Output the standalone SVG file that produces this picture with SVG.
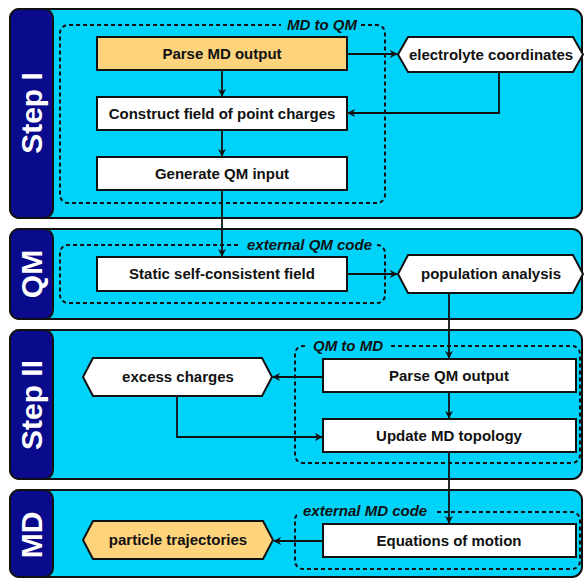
<svg xmlns="http://www.w3.org/2000/svg" width="584" height="579" viewBox="0 0 584 579">
<style>
.lane{fill:#00D3FA;stroke:#111;stroke-width:2}
.tag{fill:#0A0A8C;stroke:#111;stroke-width:2}
.tagt{font-family:"Liberation Sans",Arial,sans-serif;font-weight:bold;font-size:30px;fill:#fff;text-anchor:middle}
.box{fill:#fff;stroke:#111;stroke-width:2}
.org{fill:#FDD37C}
.t{font-family:"Liberation Sans",Arial,sans-serif;font-weight:bold;font-size:15px;fill:#111;text-anchor:middle}
.dash{fill:none;stroke:#111;stroke-width:2;stroke-dasharray:4 3}
.dl{font-family:"Liberation Sans",Arial,sans-serif;font-weight:bold;font-style:italic;font-size:15px;fill:#111}
.c{fill:none;stroke:#111;stroke-width:1.8}
</style>
<defs>
<marker id="ah" viewBox="0 0 10 10" refX="9" refY="5" markerWidth="8" markerHeight="8" orient="auto" markerUnits="userSpaceOnUse">
<path d="M0,0 L10,5 L0,10 L3,5 Z" fill="#111"/>
</marker>
</defs>
<rect width="584" height="579" fill="#fff"/>
<g id="lane-step1">
<rect class="lane" x="10" y="9" width="572" height="209" rx="10"/>
<rect class="tag" x="10" y="9" width="43" height="209" rx="9"/>
<text class="tagt" transform="translate(42,113) rotate(-90)">Step I</text>
</g>
<g id="lane-qm">
<rect class="lane" x="10" y="229" width="572" height="90" rx="10"/>
<rect class="tag" x="10" y="229" width="43" height="90" rx="9"/>
<text class="tagt" transform="translate(42,274) rotate(-90)">QM</text>
</g>
<g id="lane-step2">
<rect class="lane" x="10" y="330" width="572" height="149" rx="10"/>
<rect class="tag" x="10" y="330" width="43" height="149" rx="9"/>
<text class="tagt" transform="translate(42,405) rotate(-90)">Step II</text>
</g>
<g id="lane-md">
<rect class="lane" x="10" y="490" width="572" height="87" rx="10"/>
<rect class="tag" x="10" y="490" width="43" height="87" rx="9"/>
<text class="tagt" transform="translate(42,535) rotate(-90)">MD</text>
</g>
<g id="group-md-to-qm">
<path class="dash" d="M361,25 H377 A8,8 0 0 1 385,33 V195 A8,8 0 0 1 377,203 H68 A8,8 0 0 1 60,195 V33 A8,8 0 0 1 68,25 H281"/>
<text class="dl" x="357" y="30" text-anchor="end">MD to QM</text>
</g>
<g id="group-external-qm">
<path class="dash" d="M377,245 A8,8 0 0 1 385,253 V295 A8,8 0 0 1 377,303 H68 A8,8 0 0 1 60,295 V253 A8,8 0 0 1 68,245 H238"/>
<text class="dl" x="372" y="250" text-anchor="end">external QM code</text>
</g>
<g id="group-qm-to-md">
<path class="dash" d="M391,346 H572 A8,8 0 0 1 580,354 V455 A8,8 0 0 1 572,463 H303 A8,8 0 0 1 295,455 V354 A8,8 0 0 1 303,346 H308"/>
<text class="dl" x="313" y="351">QM to MD</text>
</g>
<g id="group-external-md">
<path class="dash" d="M437,512 H572 A8,8 0 0 1 580,520 V561 A8,8 0 0 1 572,569 H303 A8,8 0 0 1 295,561 V520 A8,8 0 0 1 299,513"/>
<text class="dl" x="303" y="516">external MD code</text>
</g>
<g id="connectors">
<path class="c" d="M347,54 H397" marker-end="url(#ah)"/>
<path class="c" d="M222,70 V96" marker-end="url(#ah)"/>
<path class="c" d="M499,72 V113 H348" marker-end="url(#ah)"/>
<path class="c" d="M222,130 V156" marker-end="url(#ah)"/>
<path class="c" d="M222,190 V256" marker-end="url(#ah)"/>
<path class="c" d="M347,274 H397" marker-end="url(#ah)"/>
<path class="c" d="M449,293 V358" marker-end="url(#ah)"/>
<path class="c" d="M323,377 H273" marker-end="url(#ah)"/>
<path class="c" d="M177,396 V437 H322" marker-end="url(#ah)"/>
<path class="c" d="M449,392 V418" marker-end="url(#ah)"/>
<path class="c" d="M449,452 V523" marker-end="url(#ah)"/>
<path class="c" d="M323,541 H274" marker-end="url(#ah)"/>
</g>
<g id="parse-md-output">
<rect class="box org" x="97" y="37" width="250" height="33"/>
<text class="t" x="222" y="59">Parse MD output</text>
</g>
<g id="construct-field">
<rect class="box" x="97" y="97" width="250" height="33"/>
<text class="t" x="222" y="119">Construct field of point charges</text>
</g>
<g id="generate-qm-input">
<rect class="box" x="97" y="157" width="250" height="33"/>
<text class="t" x="222" y="179">Generate QM input</text>
</g>
<g id="electrolyte-coordinates">
<polygon class="box" points="398,54.5 408,37 573,37 583,54.5 573,72 408,72"/>
<text class="t" x="491" y="60">electrolyte coordinates</text>
</g>
<g id="static-scf">
<rect class="box" x="97" y="257" width="250" height="34"/>
<text class="t" x="222" y="279">Static self-consistent field</text>
</g>
<g id="population-analysis">
<polygon class="box" points="398,274 408,255 573,255 583,274 573,293 408,293"/>
<text class="t" x="491" y="279">population analysis</text>
</g>
<g id="parse-qm-output">
<rect class="box" x="323" y="359" width="253" height="33"/>
<text class="t" x="449" y="381">Parse QM output</text>
</g>
<g id="update-md-topology">
<rect class="box" x="323" y="419" width="253" height="33"/>
<text class="t" x="449" y="441">Update MD topology</text>
</g>
<g id="excess-charges">
<polygon class="box" points="83,377 93,358 262,358 272,377 262,396 93,396"/>
<text class="t" x="178" y="382">excess charges</text>
</g>
<g id="equations-of-motion">
<rect class="box" x="323" y="524" width="253" height="33"/>
<text class="t" x="449" y="546">Equations of motion</text>
</g>
<g id="particle-trajectories">
<polygon class="box org" points="83,540 93,521 263,521 273,540 263,559 93,559"/>
<text class="t" x="178" y="545">particle trajectories</text>
</g>
</svg>
